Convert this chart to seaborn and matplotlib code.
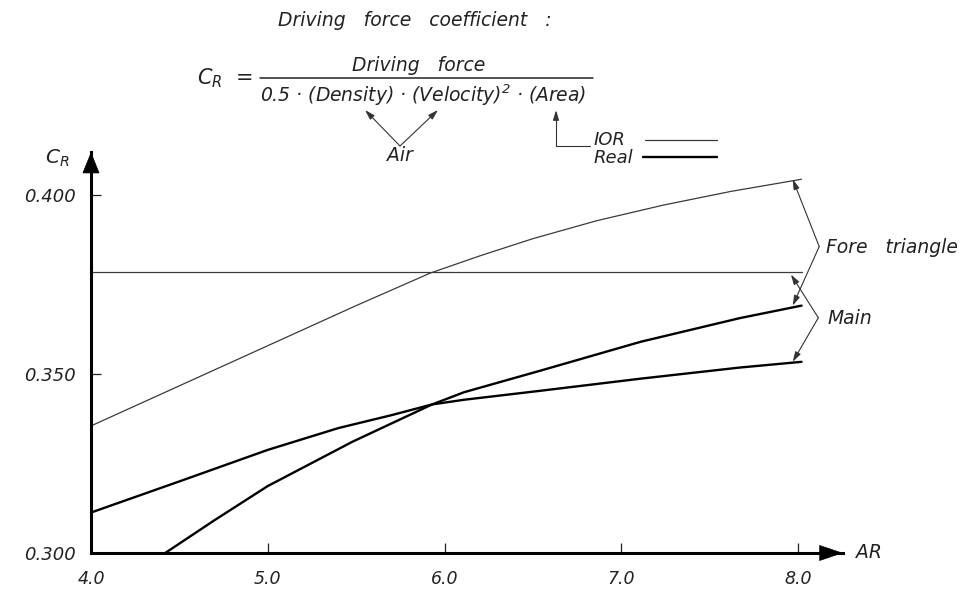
import matplotlib
matplotlib.use("Agg")
from matplotlib import pyplot as plt
from matplotlib.lines import Line2D
import seaborn as sns

# values: driving force coefficient C_R against aspect ratio AR
ar_fore_ior = [4.0, 4.5, 5.0, 5.5, 5.92, 6.2, 6.5, 6.86, 7.24, 7.62, 8.02]
cr_fore_ior = [0.3355, 0.3467, 0.3579, 0.3691, 0.3782, 0.3830, 0.3878, 0.3928, 0.3972, 0.4010, 0.4044]

ar_main_ior = [4.0, 8.02]
cr_main_ior = [0.3786, 0.3786]

ar_fore_real = [4.42, 4.7, 5.0, 5.48, 5.93, 6.11, 6.54, 7.11, 7.67, 8.02]
cr_fore_real = [0.300, 0.3092, 0.3187, 0.3311, 0.3415, 0.3449, 0.3509, 0.3590, 0.3656, 0.3691]

ar_main_real = [4.0, 4.5, 5.0, 5.4, 5.7, 5.93, 6.11, 6.54, 7.11, 7.67, 8.02]
cr_main_real = [0.3113, 0.3200, 0.3288, 0.3349, 0.3385, 0.3415, 0.3428, 0.3453, 0.3487, 0.3518, 0.3534]

ar_ticks = [4.0, 5.0, 6.0, 7.0, 8.0]
ar_ticklabels = ["4.0", "5.0", "6.0", "7.0", "8.0"]
cr_ticks = [0.300, 0.350, 0.400]
cr_ticklabels = ["0.300", "0.350", "0.400"]

W, H = 972, 589


def fpos(x, y):
    # pixel position (from top left) -> figure fraction
    return x / W, 1 - y / H


sns.set_theme(style="white")
plt.rcParams['font.family'] = ['DejaVu Sans']
plt.rcParams['font.style'] = 'italic'
plt.rcParams['mathtext.fontset'] = 'dejavusans'
ink = '#222222'

fig = plt.figure(figsize=(9.72, 5.89), dpi=100)
ax = fig.add_axes([91 / W, 1 - 553 / H, 752 / W, 401 / H])

thin = dict(color='#3a3a3a', linewidth=0.9)
thick = dict(color='black', linewidth=1.7)
sns.lineplot(x=ar_fore_ior, y=cr_fore_ior, ax=ax, estimator=None, **thin)
sns.lineplot(x=ar_main_ior, y=cr_main_ior, ax=ax, estimator=None, **thin)
sns.lineplot(x=ar_fore_real, y=cr_fore_real, ax=ax, estimator=None, **thick)
sns.lineplot(x=ar_main_real, y=cr_main_real, ax=ax, estimator=None, **thick)

ax.set_xlim(4.0, 4.0 + 752 / 176.75)
ax.set_ylim(0.300, 0.300 + 401 / 3580)
sns.despine(ax=ax)
for s in ['left', 'bottom']:
    ax.spines[s].set_color('black')
    ax.spines[s].set_linewidth(2.2)

ax.set_xticks(ar_ticks)
ax.set_xticklabels(ar_ticklabels)
ax.set_yticks(cr_ticks)
ax.set_yticklabels(cr_ticklabels)
ax.tick_params(axis='both', which='major', direction='in', length=7, width=0.9,
               color=ink, labelcolor=ink)
ax.tick_params(axis='x', bottom=True, pad=12, labelsize=12.5)
ax.tick_params(axis='y', left=True, pad=11, labelsize=13)

# axis arrows
ax.annotate('', xy=(1, 0), xycoords='axes fraction', xytext=(0.96, 0),
            arrowprops=dict(arrowstyle='-|>,head_length=0.8,head_width=0.27',
                            mutation_scale=20, color='black', lw=0.5,
                            shrinkA=0, shrinkB=0))
ax.annotate('', xy=(0, 1), xycoords='axes fraction', xytext=(0, 0.93),
            arrowprops=dict(arrowstyle='-|>,head_length=0.72,head_width=0.29',
                            mutation_scale=20, color='black', lw=0.5,
                            shrinkA=0, shrinkB=0))

ax.set_xlabel('AR', fontsize=13.5, ha='left', va='center', color=ink)
ax.xaxis.set_label_coords(1.017, 0.0)
ax.set_ylabel(r'$C_R$', fontsize=14.5, rotation=0, ha='center', va='center', color=ink)
ax.yaxis.set_label_coords(-0.045, 0.985)

# brackets on the right
br = dict(arrowstyle='-|>,head_length=0.6,head_width=0.18', mutation_scale=10,
          color='#333333', lw=0.8, shrinkA=0, shrinkB=0)
ax.annotate('', xy=(7.97, cr_fore_ior[-1]), xytext=(8.12, 0.3856), arrowprops=br)
ax.annotate('', xy=(7.97, cr_fore_real[-1]), xytext=(8.12, 0.3856), arrowprops=br)
ax.annotate('', xy=(7.96, cr_main_ior[-1] - 0.0008), xytext=(8.115, 0.3657), arrowprops=br)
ax.annotate('', xy=(7.97, cr_main_real[-1]), xytext=(8.115, 0.3657), arrowprops=br)
fig.text(*fpos(826, 253), 'Fore   triangle', fontsize=13.5, ha='left', va='baseline', color=ink)
fig.text(*fpos(827, 324), 'Main', fontsize=13.5, ha='left', va='baseline', color=ink)

# header: definition of the coefficient
fig.text(*fpos(415, 26), 'Driving   force   coefficient   :', fontsize=13.5,
         ha='center', va='baseline', color=ink)
fig.text(*fpos(197, 84), r'$C_R$  =', fontsize=15, ha='left', va='baseline', color=ink)
fig.text(*fpos(419, 71), 'Driving   force', fontsize=13.5, ha='center', va='baseline', color=ink)
fig.add_artist(Line2D([260 / W, 593 / W], [1 - 77.5 / H] * 2, color=ink, lw=1.1))
fig.text(*fpos(260, 102), '0.5 · (Density) · (Velocity)$^2$ · (Area)', fontsize=13.5,
         ha='left', va='baseline', color=ink)

small = dict(arrowstyle='-|>,head_length=0.6,head_width=0.18', mutation_scale=10,
             color='#333333', lw=0.8, shrinkA=0, shrinkB=0)
ax.annotate('', xy=fpos(365, 110), xycoords='figure fraction',
            xytext=fpos(400, 146), textcoords='figure fraction', arrowprops=small)
ax.annotate('', xy=fpos(438, 110), xycoords='figure fraction',
            xytext=fpos(400, 146), textcoords='figure fraction', arrowprops=small)
fig.text(*fpos(400, 161), 'Air', fontsize=13.5, ha='center', va='baseline', color=ink)
ax.annotate('', xy=fpos(556, 110), xycoords='figure fraction',
            xytext=fpos(590, 146), textcoords='figure fraction',
            arrowprops=dict(small, connectionstyle='angle,angleA=0,angleB=90,rad=0'))

# legend
fig.text(*fpos(594, 145), 'IOR', fontsize=13, ha='left', va='baseline', color=ink)
fig.text(*fpos(594, 163), 'Real', fontsize=13, ha='left', va='baseline', color=ink)
fig.add_artist(Line2D([645 / W, 717 / W], [1 - 140 / H] * 2, **thin))
fig.add_artist(Line2D([643 / W, 717 / W], [1 - 157 / H] * 2, **thick))

fig.savefig('out.png', dpi=100)
